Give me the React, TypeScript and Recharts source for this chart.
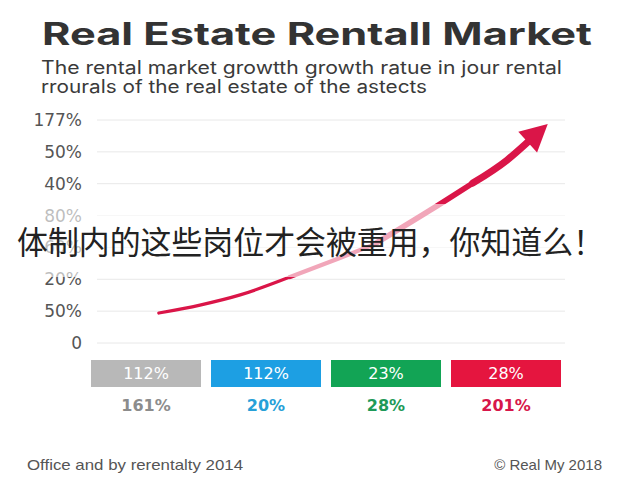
import { Bar, BarChart, CartesianGrid, Cell, LabelList, Line, LineChart, XAxis, YAxis } from 'recharts';

// y axis labels, bottom to top (the picture's odd labels kept as-is)
const yLabels = ['0', '50%', '20%', '60%', '80%', '40%', '50%', '177%'];
const yTicks = [0, 1, 2, 3, 4, 5, 6, 7];

// growth arrow (x on a 0-100 scale, y on the tick index scale)
const curveX = [13.2, 22, 30.6, 41.2, 51.9, 59, 71.2, 80.3, 87.6, 92.5];
const curveY = [0.94, 1.19, 1.51, 2.07, 2.67, 3.08, 4.17, 5.02, 5.74, 6.37];

// the four coloured boxes under the chart
const boxNames = ['a', 'b', 'c', 'd'];
const boxTop = ['112%', '112%', '23%', '28%'];
const boxBottom = ['161%', '20%', '28%', '201%'];

const boxColors = ['#b8b8b8', '#1d9fe3', '#12a455', '#e5153f'];
const boxTextColors = ['#8c8c8c', '#27a0d8', '#1e9a58', '#d7164a'];
const RED = '#da1548';

// tapered stroke: each piece covers a range of curve points
const pieces = [
  { key: 's1', from: 0, to: 3, width: 3.2 },
  { key: 's2', from: 3, to: 5, width: 4.2 },
  { key: 's3', from: 5, to: 7, width: 5.6 },
  { key: 's4', from: 7, to: 9, width: 7 },
];

const lineData = curveX.map((x, i) => {
  const row: Record<string, number | null> = { x };
  pieces.forEach((p) => {
    row[p.key] = i >= p.from && i <= p.to ? curveY[i] : null;
  });
  return row;
});

const boxData = boxNames.map((name, i) => ({ name, v: 1, top: boxTop[i], bottom: boxBottom[i] }));

const tickFont = '"DejaVu Sans", sans-serif';

function ArrowHead(props: any) {
  const { cx, cy, index } = props;
  if (index !== curveX.length - 1 || cx == null) return <g key={`d${index}`} />;
  return (
    <polygon
      key={`d${index}`}
      points="24,0 -3,-14 -3,14"
      fill={RED}
      transform={`translate(${cx},${cy}) rotate(-42)`}
    />
  );
}

function BoxTick(props: any) {
  const { x, y, index } = props;
  return (
    <text
      x={x}
      y={y}
      dy={22}
      textAnchor="middle"
      fontFamily={tickFont}
      fontWeight={700}
      fontSize={16}
      fill={boxTextColors[index]}
    >
      {boxBottom[index]}
    </text>
  );
}

export default function App() {
  return (
    <div
      style={{
        position: 'absolute',
        left: 0,
        top: 0,
        width: 640,
        height: 480,
        background: '#fff',
        overflow: 'hidden',
      }}
    >
      <div style={{ position: 'absolute', left: 0, top: 0 }}>
        <LineChart width={640} height={360} data={lineData} margin={{ top: 120, right: 75, left: 0, bottom: 17 }}>
          <CartesianGrid horizontal vertical={false} stroke="#e8e8e8" />
          <XAxis type="number" dataKey="x" domain={[0, 100]} hide />
          <YAxis
            type="number"
            domain={[0, 7]}
            ticks={yTicks}
            width={97}
            axisLine={false}
            tickLine={false}
            tickSize={0}
            tickMargin={15}
            tickFormatter={(v: number) => yLabels[v]}
            tick={{ fill: '#555', fontSize: 17, fontFamily: tickFont }}
          />
          {pieces.map((p) => (
            <Line
              key={p.key}
              type="monotone"
              dataKey={p.key}
              stroke={RED}
              strokeWidth={p.width}
              strokeLinecap="round"
              dot={p.key === 's4' ? ArrowHead : false}
              activeDot={false}
              isAnimationActive={false}
            />
          ))}
        </LineChart>
      </div>

      <div style={{ position: 'absolute', left: 0, top: 352 }}>
        <BarChart width={640} height={80} data={boxData} margin={{ top: 8, right: 74, left: 86, bottom: 15 }} barCategoryGap={5}>
          <XAxis dataKey="name" axisLine={false} tickLine={false} tickSize={0} tickMargin={2} height={30} tick={BoxTick} />
          <YAxis hide domain={[0, 1]} />
          <Bar dataKey="v" isAnimationActive={false}>
            {boxData.map((d, i) => (
              <Cell key={d.name} fill={boxColors[i]} />
            ))}
            <LabelList dataKey="top" position="center" fill="#fff" fontSize={16} fontFamily={tickFont} />
          </Bar>
        </BarChart>
      </div>

      {/* washed-out band behind the overlay caption */}
      <div
        style={{
          position: 'absolute',
          left: 0,
          top: 204,
          width: 640,
          height: 73,
          background: 'rgba(255,255,255,0.62)',
        }}
      />

      <svg width={640} height={480} style={{ position: 'absolute', left: 0, top: 0 }}>
        <text
          x={42}
          y={45}
          fontFamily="Inter, sans-serif"
          fontWeight={700}
          fontSize={31}
          fill="#333"
          textLength={550}
          lengthAdjust="spacingAndGlyphs"
        >
          Real Estate Rentall Market
        </text>
        <text x={41} y={74} fontFamily="Inter, sans-serif" fontSize={18} fill="#3a3a3a" textLength={521} lengthAdjust="spacingAndGlyphs">
          The rental market growtth growth ratue in jour rental
        </text>
        <text x={41} y={93} fontFamily="Inter, sans-serif" fontSize={18} fill="#3a3a3a" textLength={386} lengthAdjust="spacingAndGlyphs">
          rrourals of the real estate of the astects
        </text>
        <text
          x={17}
          y={254}
          fontFamily='"Noto Sans CJK SC", sans-serif'
          fontSize={32}
          fill="#222"
          textLength={587}
          lengthAdjust="spacingAndGlyphs"
        >
          体制内的这些岗位才会被重用，你知道么！
        </text>
        <text x={27} y={470} fontFamily='"Liberation Sans", sans-serif' fontSize={15} fill="#555" textLength={216} lengthAdjust="spacingAndGlyphs">
          Office and by rerentalty 2014
        </text>
        <text
          x={602}
          y={470}
          textAnchor="end"
          fontFamily='"Liberation Sans", sans-serif'
          fontSize={15}
          fill="#555"
        >
          © Real My 2018
        </text>
      </svg>
    </div>
  );
}
